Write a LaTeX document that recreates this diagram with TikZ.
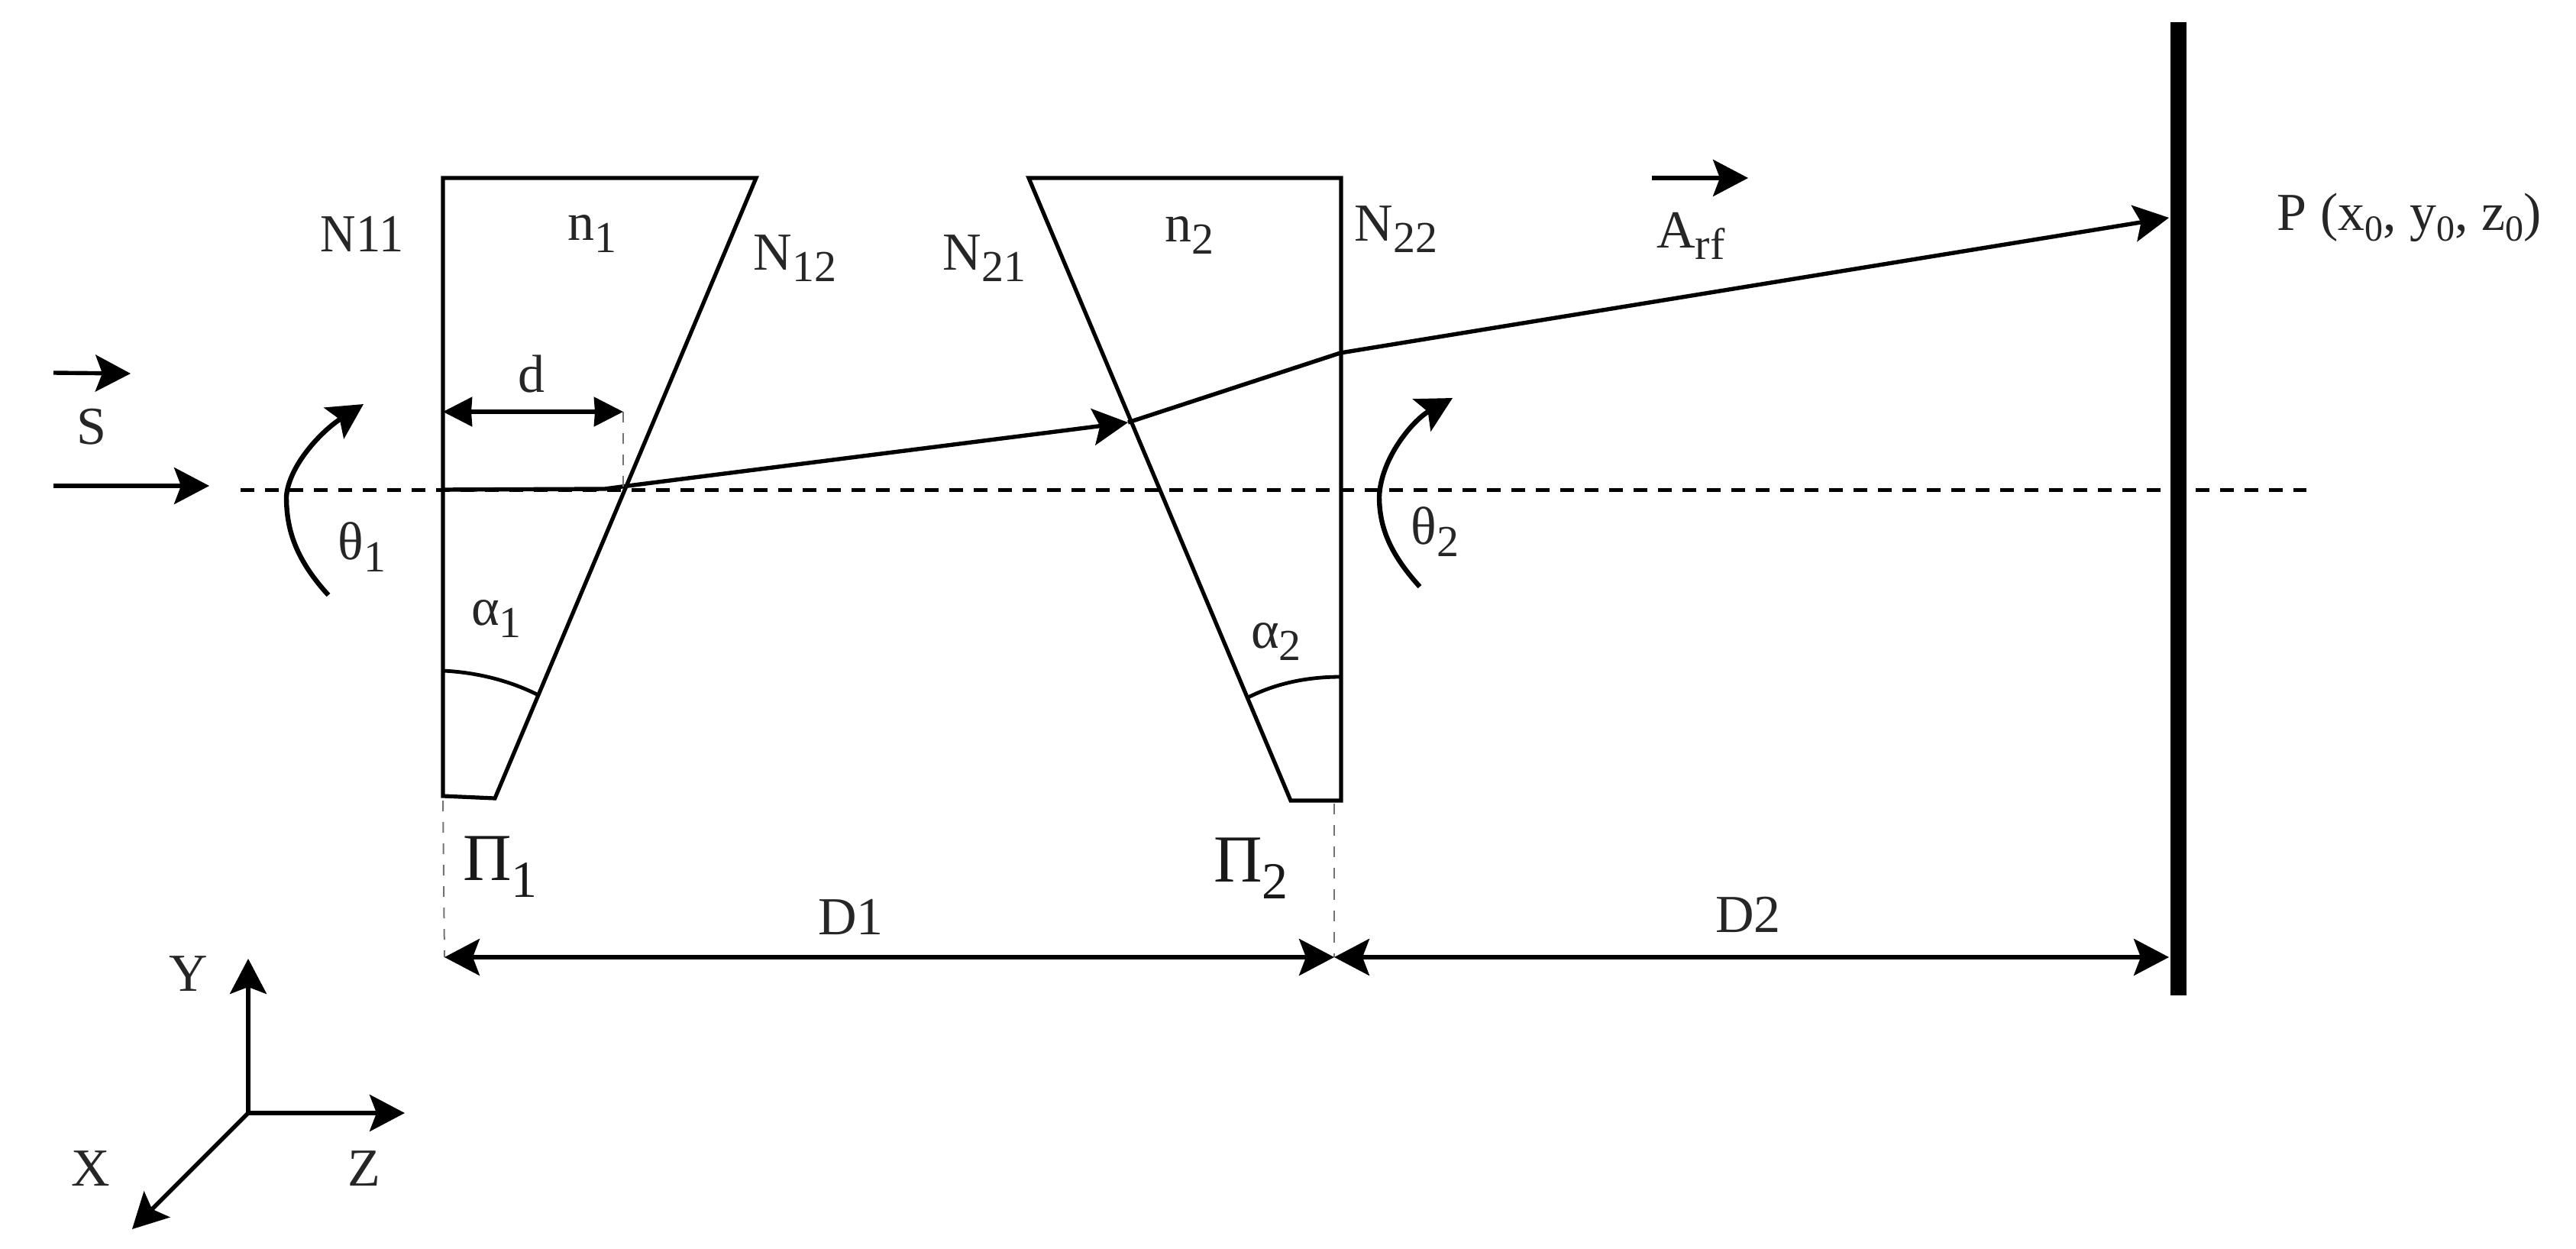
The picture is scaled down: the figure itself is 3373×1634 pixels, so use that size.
\documentclass[tikz,border=0pt]{standalone}
\usepackage{fontspec}
\setmainfont{Liberation Serif}
\usetikzlibrary{arrows.meta}
\newcommand\sbx[1]{\raisebox{-0.22em}{\fontsize{29}{33}\selectfont #1}}
\newcommand\sby[1]{\raisebox{-0.25em}{\fontsize{34}{38}\selectfont #1}}
\newcommand\sbz[1]{\raisebox{-0.2em}{\fontsize{24}{28}\selectfont #1}}
\tikzset{
  lbl/.style={inner sep=0pt,font=\fontsize{35}{42}\selectfont,text=black!85},
  bigl/.style={inner sep=0pt,font=\fontsize{44}{50}\selectfont,text=black!90},
  prism/.style={draw=black,line width=2.6pt,line join=miter},
  thinarc/.style={draw=black,line width=2.4pt},
  ray/.style={draw=black,line width=2.7pt},
  rot/.style={draw=black,line width=3.2pt},
  axisdash/.style={draw=black,line width=2.5pt,dash pattern=on 9pt off 7pt},
  guide/.style={draw=black!55,line width=1pt,dash pattern=on 7pt off 7pt},
  tip/.style={-{Stealth[length=23pt,width=24pt,inset=4.5pt]}},
  dbl/.style={{Stealth[length=23pt,width=24pt,inset=4.5pt]}-{Stealth[length=23pt,width=24pt,inset=4.5pt]}},
  smalldbl/.style={{Stealth[length=19pt,width=19pt,inset=0.5pt]}-{Stealth[length=19pt,width=19pt,inset=0.5pt]}},
}
\begin{document}
\begin{tikzpicture}[x=0.5pt,y=-0.5pt]
\useasboundingbox (0,0) rectangle (3373,1634);
% named points
\coordinate (p1a) at (580,233);
\coordinate (p1b) at (990,233);
\coordinate (p1c) at (648,1045);
\coordinate (p1d) at (580,1042);
\coordinate (p2a) at (1347,233);
\coordinate (p2b) at (1756,233);
\coordinate (p2c) at (1756,1048);
\coordinate (p2d) at (1690,1048);
\coordinate (axL) at (315,641);
\coordinate (axR) at (3020,641);
\coordinate (r0) at (580,641);
\coordinate (r1) at (792,640);
\coordinate (r2) at (822,636);
\coordinate (r3) at (1477,553);
\coordinate (r4) at (1755,462);
\coordinate (r5) at (2840,285);
\coordinate (scrT) at (2852,29);
\coordinate (scrB) at (2852,1303);
\coordinate (sa) at (70,488);
\coordinate (sb) at (171,489);
\coordinate (ia) at (70,636);
\coordinate (ib) at (274,636);
\coordinate (aa) at (2163,233);
\coordinate (ab) at (2289,233);
\coordinate (da) at (580,539);
\coordinate (db) at (816,539);
\coordinate (dc) at (816,641);
\coordinate (d1a) at (582,1253);
\coordinate (d1b) at (1747,1253);
\coordinate (d2b) at (2840,1253);
\coordinate (g1) at (580,1048);
\coordinate (g2) at (1747,1052);
\coordinate (o) at (325,1457);
\coordinate (oy) at (325,1255);
\coordinate (oz) at (530,1457);
\coordinate (ox) at (173,1609);
% axis and screen
\draw[axisdash] (axL) -- (axR);
\draw[draw=black,line width=10.5pt] (scrT) -- (scrB);
% prisms
\draw[prism] (p1d) -- (p1a) -- (p1b) -- (p1c) -- cycle;
\draw[prism] (p2a) -- (p2b) -- (p2c) -- (p2d) -- cycle;
% angle arcs
\draw[thinarc] (580,878) .. controls (622,880) and (665,890) .. (703,909);
\draw[thinarc] (1634,913) .. controls (1670,895) and (1710,886) .. (1756,886);
% ray
\draw[ray,tip] (r0) -- (r1) -- (r2) -- (r3);
\draw[ray,tip] (r3) -- (r4) -- (r5);
% small arrows
\draw[ray,tip] (sa) -- (sb);
\draw[ray,tip] (ia) -- (ib);
\draw[ray,tip] (aa) -- (ab);
% d dimension
\draw[guide] (db) -- (dc);
\draw[ray,smalldbl] (da) -- (db);
% rotation arrows
\draw[rot,tip] (430,779) .. controls (385,730) and (375,690) .. (375,650) .. controls (378,610) and (420,565) .. (476,529);
\draw[rot,tip] (1859,768) .. controls (1820,725) and (1806,690) .. (1806,650) .. controls (1808,600) and (1850,550) .. (1902,521);
% D dimensions
\draw[guide] (g1) -- (d1a);
\draw[guide] (g2) -- (d1b);
\draw[ray,dbl] (d1a) -- (d1b);
\draw[ray,dbl] (d1b) -- (d2b);
% coordinate axes
\draw[ray,tip] (o) -- (oy);
\draw[ray,tip] (o) -- (oz);
\draw[ray,tip] (o) -- (ox);
% labels
\node[lbl] (tS) at (120,559) {S};
\node[lbl,xscale=0.92] (tN11) at (474,306) {N11};
\node[lbl] (tN12) at (1041,338) {N\sbx{12}};
\node[lbl] (tn1) at (775,306) {n\sbx{1}};
\node[lbl] (td) at (696,490) {d};
\node[lbl] (tth1) at (474,716) {θ\sbx{1}};
\node[lbl] (tal1) at (650,810) {α\sbx{1}};
\node[lbl] (tN21) at (1289,338) {N\sbx{21}};
\node[lbl] (tn2) at (1557,308) {n\sbx{2}};
\node[lbl] (tN22) at (1828,300) {N\sbx{22}};
\node[lbl] (tth2) at (1879,696) {θ\sbx{2}};
\node[lbl] (tal2) at (1671,840) {α\sbx{2}};
\node[lbl] (tA) at (2214,309) {A\sbx{rf}};
\node[lbl] (tP) at (3155,285) {P (x\sbz{0}, y\sbz{0}, z\sbz{0})};
\node[bigl] (tPi1) at (655,1135) {Π\sby{1}};
\node[bigl] (tPi2) at (1638,1137) {Π\sby{2}};
\node[lbl] (tD1) at (1114,1200) {D1};
\node[lbl] (tD2) at (2289,1197) {D2};
\node[lbl] (tY) at (247,1275) {Y};
\node[lbl] (tX) at (119,1530) {X};
\node[lbl] (tZ) at (477,1530) {Z};
\end{tikzpicture}
\end{document}
